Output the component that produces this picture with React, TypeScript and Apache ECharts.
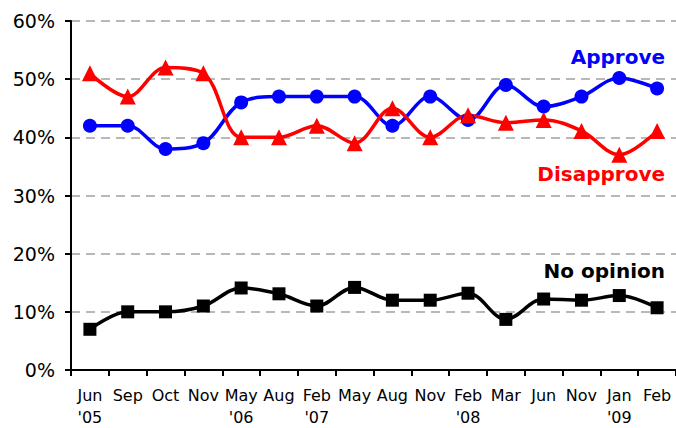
import React, { useEffect, useRef } from "react";
import * as echarts from "echarts";

const categories = [
  "Jun\n'05", "Sep", "Oct", "Nov", "May\n'06", "Aug", "Feb\n'07", "May",
  "Aug", "Nov", "Feb\n'08", "Mar", "Jun", "Nov", "Jan\n'09", "Feb",
];
const approve = [42, 42, 38, 39, 46, 47, 47, 47, 42, 47, 43, 49, 45.3, 47, 50.2, 48.4];
const disapprove = [51, 47, 52, 51, 40, 40, 42, 39, 45, 40, 43.8, 42.5, 43, 41.1, 37, 41.1];
const noOpinion = [7, 10, 10, 11, 14.1, 13.1, 11, 14.2, 12, 12, 13.2, 8.7, 12.2, 12, 12.8, 10.7];
const yTicks = [0, 10, 20, 30, 40, 50, 60];

export default function App() {
  const ref = useRef<HTMLDivElement>(null);
  useEffect(() => {
    if (!ref.current) return;
    const chart = echarts.init(ref.current, undefined, { renderer: "svg" });
    const font = "'DejaVu Sans', Verdana, sans-serif";
    const mkSeries = (name: string, data: number[], color: string, symbol: string, size: number) => ({
      name,
      type: "line",
      data,
      smooth: 0.35,
      symbol,
      symbolSize: size,
      showAllSymbol: true,
      lineStyle: { color, width: 3.5 },
      itemStyle: { color },
      z: 3,
    });
    chart.setOption({
      animation: false,
      grid: { left: 71, top: 21, width: 608, height: 350 },
      xAxis: {
        type: "category",
        data: categories,
        boundaryGap: true,
        axisLine: { lineStyle: { color: "#000", width: 2 } },
        axisTick: { show: true, length: 6, lineStyle: { color: "#000", width: 2 }, alignWithLabel: false },
        axisLabel: {
          interval: 0,
          color: "#000",
          fontFamily: font,
          fontSize: 16,
          lineHeight: 22,
          margin: 14,
        },
        splitLine: { show: false },
      },
      yAxis: {
        type: "value",
        min: yTicks[0],
        max: yTicks[yTicks.length - 1],
        interval: 10,
        axisLine: { show: true, lineStyle: { color: "#000", width: 2 } },
        axisTick: { show: true, length: 6, lineStyle: { color: "#000", width: 2 } },
        axisLabel: {
          color: "#000",
          fontFamily: font,
          fontSize: 19,
          margin: 16,
          formatter: (v: number) => `${v}%`,
        },
        splitLine: { show: true, lineStyle: { color: "#b8b8b8", width: 2, type: [9, 6] } },
      },
      series: [
        mkSeries("Approve", approve, "#0000ff", "circle", 14),
        mkSeries("Disapprove", disapprove, "#ff0000", "triangle", 16),
        mkSeries("No opinion", noOpinion, "#000000", "rect", 13),
      ],
      graphic: [
        {
          type: "text",
          right: 11,
          top: 47,
          style: { text: "Approve", fill: "#0000ff", font: `bold 20px ${font}` },
        },
        {
          type: "text",
          right: 11,
          top: 164,
          style: { text: "Disapprove", fill: "#ff0000", font: `bold 20px ${font}` },
        },
        {
          type: "text",
          right: 11,
          top: 261,
          style: { text: "No opinion", fill: "#000000", font: `bold 20px ${font}` },
        },
      ],
    });
    return () => chart.dispose();
  }, []);
  return (
    <div
      ref={ref}
      style={{
        position: "fixed",
        left: 0,
        top: 0,
        width: 676,
        height: 428,
        overflow: "hidden",
        background: "#fff",
      }}
    />
  );
}
